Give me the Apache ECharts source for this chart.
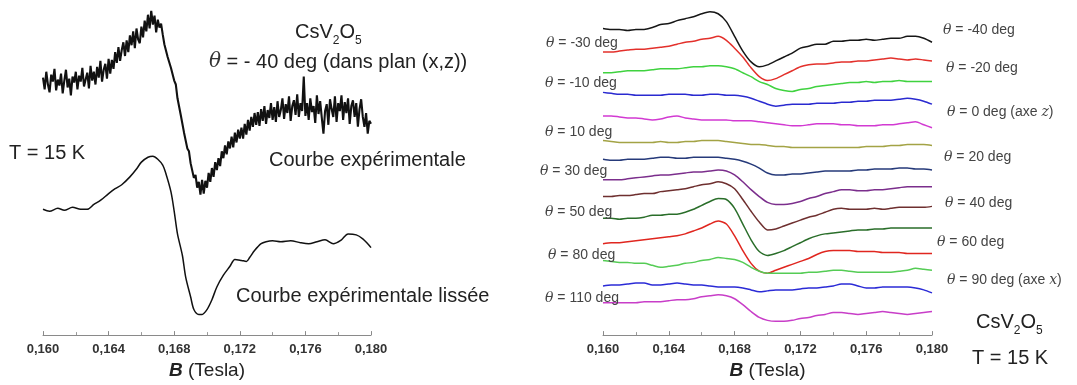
<!DOCTYPE html>
<html><head><meta charset="utf-8">
<script src="https://cdn.jsdelivr.net/npm/echarts@6/dist/echarts.min.js"></script>
<style>html,body{margin:0;padding:0;background:#fff}#c{width:1077px;height:385px}</style>
</head><body><div id="c"></div>
<script>
// ---------- DATA ----------
// Left panel: raw (noisy) EPR derivative signal, theta = -40 deg
const noisyB = [0.1600,0.1601,0.1602,0.1603,0.1604,0.1605,0.1606,0.1607,0.1608,0.1609,0.1610,0.1611,0.1612,0.1613,0.1614,0.1615,0.1616,0.1617,0.1618,0.1619,
0.1620,0.1621,0.1622,0.1623,0.1624,0.1625,0.1626,0.1627,0.1628,0.1629,0.1630,0.1631,0.1632,0.1633,0.1634,0.1635,0.1636,0.1637,0.1638,0.1639,
0.1640,0.1641,0.1642,0.1643,0.1644,0.1645,0.1646,0.1647,0.1648,0.1649,0.1650,0.1651,0.1652,0.1653,0.1654,0.1655,0.1656,0.1657,0.1658,0.1659,
0.1660,0.1661,0.1662,0.1663,0.1664,0.1665,0.1666,0.1667,0.1668,0.1669,0.1670,0.1671,0.1672,0.1673,0.1674,0.1675,0.1676,0.1677,0.1678,0.1679,
0.1680,0.1681,0.1682,0.1683,0.1684,0.1685,0.1686,0.1687,0.1688,0.1689,0.1690,0.1691,0.1692,0.1693,0.1694,0.1695,0.1696,0.1697,0.1698,0.1699,
0.1700,0.1701,0.1702,0.1703,0.1704,0.1705,0.1706,0.1707,0.1708,0.1709,0.1710,0.1711,0.1712,0.1713,0.1714,0.1715,0.1716,0.1717,0.1718,0.1719,
0.1720,0.1721,0.1722,0.1723,0.1724,0.1725,0.1726,0.1727,0.1728,0.1729,0.1730,0.1731,0.1732,0.1733,0.1734,0.1735,0.1736,0.1737,0.1738,0.1739,
0.1740,0.1741,0.1742,0.1743,0.1744,0.1745,0.1746,0.1747,0.1748,0.1749,0.1750,0.1751,0.1752,0.1753,0.1754,0.1755,0.1756,0.1757,0.1758,0.1759,
0.1760,0.1761,0.1762,0.1763,0.1764,0.1765,0.1766,0.1767,0.1768,0.1769,0.1770,0.1771,0.1772,0.1773,0.1774,0.1775,0.1776,0.1777,0.1778,0.1779,
0.1780,0.1781,0.1782,0.1783,0.1784,0.1785,0.1786,0.1787,0.1788,0.1789,0.1790,0.1791,0.1792,0.1793,0.1794,0.1795,0.1796,0.1797,0.1798,0.1799,0.1800];
const noisySignal = [262,250,268,255,247,265,258,271,249,260,254,266,246,259,270,252,261,244,263,257,
268,250,264,258,272,253,260,267,251,274,259,268,255,273,262,279,258,270,276,261,
281,266,280,271,288,277,293,279,290,298,284,300,288,305,295,309,292,312,301,297,
314,303,320,309,326,312,330,316,325,308,321,313,317,306,296,296,283,284,272,272,
259,255,241,240,224,222,206,205,190,187,175,174,160,163,150,156,143,158,144,157,
150,165,156,170,161,176,168,180,172,187,180,193,184,197,190,202,191,206,196,209,
200,211,200,215,204,219,208,222,212,226,214,227,213,230,218,233,215,229,221,236,
219,232,217,238,222,229,241,220,235,226,243,218,233,239,224,245,222,236,228,263,
223,236,219,241,227,233,216,244,225,238,221,205,228,235,214,240,230,222,243,217,
236,228,244,219,237,226,241,215,233,239,222,236,212,230,240,222,212,226,205,218,215];

// Left panel: smoothed curve
const smoothB = [0.1600,0.1604,0.1609,0.1613,0.1618,0.1623,0.1627,0.1631,0.1635,0.1640,0.1644,0.1648,0.1653,0.1657,0.1660,0.1664,0.1667,0.1670,0.1673,0.1675,
0.1678,0.1680,0.1682,0.1685,0.1687,0.1690,0.1692,0.1695,0.1697,0.1700,0.1703,0.1706,0.1710,0.1714,0.1717,0.1721,0.1724,0.1726,0.1729,0.1733,
0.1736,0.1740,0.1745,0.1751,0.1757,0.1762,0.1767,0.1772,0.1777,0.1782,0.1786,0.1791,0.1795,0.1798,0.1800];
const smoothSignal = [128,126,129,127,130,128,128,133,137,144,149,153,161,169,176,181,182,179,173,164,
146,126,103,81,59,39,26,21,21,26,36,49,61,70,77,76,75,79,86,93,
95,96,95,96,94,93,95,97,93,97,103,102,98,93,89];

// Right panel: stacked smoothed spectra (offset signal, a.u.)
const rightB = [0.1600,0.1605,0.1610,0.1615,0.1620,0.1625,0.1630,0.1635,0.1640,0.1645,0.1650,0.1655,0.1660,0.1665,0.1670,0.1675,0.1680,0.1685,0.1690,0.1695,
0.1700,0.1705,0.1710,0.1715,0.1720,0.1725,0.1730,0.1735,0.1740,0.1745,0.1750,0.1755,0.1760,0.1765,0.1770,0.1775,0.1780,0.1785,0.1790,0.1795,0.1800];
const sM40 = [312,311,311,310,311,311,313,316,317,320,322,324,327,329,327,319,304,289,278,273,275,279,283,287,292,294,296,296,299,299,300,300,301,300,301,302,302,304,304,302,298];
const sM30 = [288,288,289,290,291,291,292,293,294,296,298,299,301,302,304,300,292,283,272,263,259,261,265,269,273,275,276,276,277,278,278,279,279,280,281,282,281,280,281,280,279];
const sM20 = [267,267,268,269,269,269,270,271,271,271,272,273,273,274,274,273,271,267,263,258,255,251,249,248,250,251,253,254,255,256,257,257,258,257,258,258,259,258,258,258,258];
const sM10 = [247,246,245,245,244,244,244,244,245,245,245,244,244,245,245,244,244,243,241,238,235,233,234,235,235,235,236,236,236,237,237,238,238,239,239,239,240,241,240,238,235];
const s0   = [223,223,222,221,221,220,219,220,222,223,221,220,219,219,219,219,218,218,218,217,216,215,214,213,213,214,215,215,215,214,214,213,213,213,214,214,215,216,217,214,211];
const s10  = [198,197,196,196,196,196,196,197,196,196,197,197,198,198,198,197,196,195,194,194,193,192,192,191,191,191,191,191,191,191,191,191,192,192,192,193,193,194,194,194,193];
const s20  = [179,178,178,179,179,179,180,181,181,180,180,181,181,181,181,180,179,177,174,170,165,163,163,164,164,165,166,167,167,167,167,168,168,169,169,169,170,170,169,169,168];
const s30  = [158,158,158,159,160,161,162,163,163,164,165,166,166,167,168,167,163,156,148,141,135,133,133,134,136,139,141,144,146,148,148,147,147,148,148,149,150,151,151,151,151];
const s40  = [141,141,142,142,143,144,144,146,147,148,149,151,153,154,156,154,149,138,126,115,107,108,111,114,117,120,122,125,128,129,128,128,128,129,128,129,130,130,130,130,131];
const s50  = [119,119,118,119,119,120,122,122,123,123,125,128,132,136,139,138,129,113,97,85,81,83,86,90,94,98,101,103,104,105,106,107,107,108,108,109,109,109,109,109,109];
const s60  = [93,94,94,95,96,97,98,99,100,101,103,106,109,113,116,113,101,86,73,65,63,66,69,72,75,78,82,85,86,86,86,85,85,85,84,84,84,83,83,83,83];
const s80  = [76,75,74,74,73,73,71,69,70,71,73,74,76,77,79,78,77,74,69,65,63,63,63,63,63,64,64,65,66,66,65,64,64,64,64,64,65,66,68,67,66];
const s90  = [50,51,51,52,53,53,51,51,52,53,52,51,51,50,49,49,49,48,46,44,45,46,46,46,47,48,48,49,50,52,52,50,48,48,49,49,49,49,48,46,43];
const s110 = [33,33,33,33,33,34,34,34,35,36,36,37,39,40,41,40,37,31,24,18,15,14,14,15,17,18,20,21,23,23,22,21,22,23,24,23,22,21,22,23,24];
const rightSeries = [sM40,sM30,sM20,sM10,s0,s10,s20,s30,s40,s50,s60,s80,s90,s110];
const rightColors = ['#161616','#e3302b','#3fd23f','#2a2ad0','#d23ad2','#a3a345','#263a7a','#7b2e8c','#6e2f2f','#2a6e2a','#e0261f','#55cc55','#2b2bd6','#c83ec8'];

const leftLabels = ['{i|θ} = -30 deg','{i|θ} = -10 deg','{i|θ} = 10 deg','{i|θ} = 30 deg','{i|θ} = 50 deg','{i|θ} = 80 deg','{i|θ} = 110 deg'];
const rightLabels = ['{i|θ} = -40 deg','{i|θ} = -20 deg','{i|θ} = 0 deg (axe {i|z})','{i|θ} = 20 deg','{i|θ} = 40 deg','{i|θ} = 60 deg','{i|θ} = 90 deg (axe {i|x})'];
const xTicks = {min:0.160, max:0.180, interval:0.004};

// ---------- CHART ----------
const FONT = '"Liberation Sans", Arial, sans-serif';
const pairs = (xs, ys) => xs.map((x, i) => [x, ys[i]]);
const chart = echarts.init(document.getElementById('c'), null, {renderer:'canvas'});

function xAxisCfg(idx){
  return {
    type:'value', gridIndex:idx, min:xTicks.min, max:xTicks.max, interval:xTicks.interval,
    axisLine:{show:true, lineStyle:{color:'#8a8a8a', width:1}},
    axisTick:{show:true, inside:true, length:4, lineStyle:{color:'#8a8a8a'}},
    minorTick:{show:true, splitNumber:2, length:3, lineStyle:{color:'#9a9a9a'}},
    splitLine:{show:false},
    axisLabel:{margin:8, fontSize:13, fontWeight:'bold', color:'#333', fontFamily:FONT,
      formatter:v => v.toFixed(3).replace('.', ',')},
    name:'{b|B} (Tesla)', nameLocation:'middle', nameGap:19,
    nameTextStyle:{fontSize:19, color:'#222', fontFamily:FONT,
      rich:{b:{fontSize:19, fontWeight:'bold', fontStyle:'italic', color:'#222', fontFamily:FONT}}}
  };
}
function yAxisCfg(idx){ return {type:'value', gridIndex:idx, min:0, max:341, show:false}; }

const series = [
  {type:'line', xAxisIndex:0, yAxisIndex:0, data:pairs(noisyB, noisySignal), showSymbol:false,
   lineStyle:{color:'#111', width:2.1}, z:3},
  {type:'line', xAxisIndex:0, yAxisIndex:0, data:pairs(smoothB, smoothSignal), showSymbol:false, smooth:0.3,
   lineStyle:{color:'#111', width:1.5}, z:3}
];
rightSeries.forEach((s, i) => series.push({
  type:'line', xAxisIndex:1, yAxisIndex:1, data:pairs(rightB, s), showSymbol:false, smooth:0.25,
  lineStyle:{color:rightColors[i], width:1.5}
}));

const richTheta = {i:{fontStyle:'italic', fontSize:14, fill:'#444', fontFamily:'"DejaVu Serif", serif'}};
function txt(x, y, text, size, color, rich){
  return {type:'text', x:x, y:y, z:100,
    style:{text:text, fill:color, font:size+'px '+FONT, verticalAlign:'middle', align:'left', rich:rich||{}}};
}
const leftLabelPos = [[546,43],[545,83],[545,132],[540,171],[545,212],[548,255],[545,298]];
const rightLabelPos = [[943,30],[946,68],[947,112],[944,157],[945,203],[937,242],[947,280]];
const graphics = [];
leftLabels.forEach((t,i)=>graphics.push(txt(leftLabelPos[i][0], leftLabelPos[i][1], t, 14, '#444', richTheta)));
rightLabels.forEach((t,i)=>graphics.push(txt(rightLabelPos[i][0], rightLabelPos[i][1], t, 14, '#444', richTheta)));

const csRich = {
  n:{fontSize:20, fill:'#222', fontFamily:FONT, verticalAlign:'middle', lineHeight:30},
  s:{fontSize:12, fill:'#222', fontFamily:FONT, verticalAlign:'bottom', lineHeight:30}
};
graphics.push(txt(295, 32, '{n|CsV}{s|2}{n|O}{s|5}', 20, '#222', csRich));
graphics.push(txt(976, 322, '{n|CsV}{s|2}{n|O}{s|5}', 20, '#222', csRich));
graphics.push(txt(209, 62, '{i|θ} = - 40 deg (dans plan (x,z))', 20, '#222',
  {i:{fontStyle:'italic', fontSize:20, fill:'#333', fontFamily:'"DejaVu Serif", serif'}}));
graphics.push(txt(9, 153, 'T = 15 K', 20, '#222'));
graphics.push(txt(972, 358, 'T = 15 K', 20, '#222'));
graphics.push(txt(269, 160, 'Courbe expérimentale', 20, '#222'));
graphics.push(txt(236, 296, 'Courbe expérimentale lissée', 20, '#222'));

chart.setOption({
  animation:false,
  backgroundColor:'#fff',
  grid:[{left:43, right:706, top:0, bottom:44}, {left:603, right:145, top:0, bottom:44}],
  xAxis:[xAxisCfg(0), xAxisCfg(1)],
  yAxis:[yAxisCfg(0), yAxisCfg(1)],
  series:series,
  graphic:graphics
});
</script></body></html>
